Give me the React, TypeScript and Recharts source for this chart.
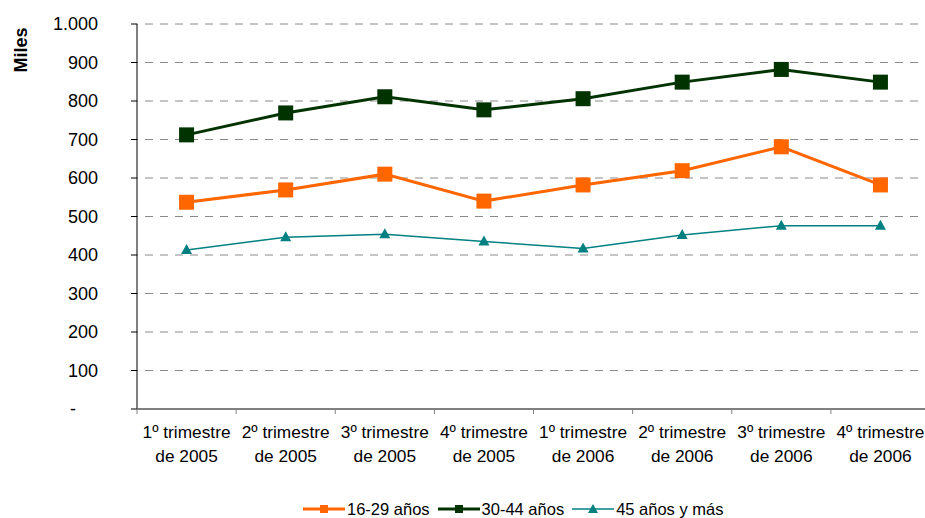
import React from "react";
import { LineChart, Line, XAxis, YAxis, CartesianGrid, Label, ReferenceLine } from "recharts";

const categories = [
  "1º trimestre de 2005",
  "2º trimestre de 2005",
  "3º trimestre de 2005",
  "4º trimestre de 2005",
  "1º trimestre de 2006",
  "2º trimestre de 2006",
  "3º trimestre de 2006",
  "4º trimestre de 2006",
];
const serie16_29 = [537, 569, 610, 540, 582, 619, 681, 582];
const serie30_44 = [712, 769, 811, 777, 806, 849, 882, 849];
const serie45 = [413, 446, 454, 435, 417, 452, 476, 476];
const yTicks = [0, 100, 200, 300, 400, 500, 600, 700, 800, 900, 1000];

const seriesNames = ["16-29 años", "30-44 años", "45 años y más"];
const COLORS = ["#FF6600", "#003300", "#008080"];

// position of each category = centre of its slot (slot i spans [i, i+1])
const data = categories.map((c, i) => ({
  cat: c,
  pos: i + 0.5,
  a: serie16_29[i],
  b: serie30_44[i],
  c: serie45[i],
}));
// ticks: slot boundaries (integers) get tick marks, slot centres get labels
const xTicks = Array.from({ length: categories.length * 2 + 1 }, (_, i) => i / 2);

const FONT = "'Liberation Sans', Arial, sans-serif";

const fmt = (v: number) => (v === 0 ? "-" : v >= 1000 ? v.toLocaleString("de-DE") : String(v));

const YTick = (props: any) => {
  const { x, y, payload } = props;
  const v = payload.value;
  if (v === 0) {
    return (
      <text x={x - 25} y={y} dy="0.35em" textAnchor="middle" fontSize={18} fontFamily={FONT} fill="#000">
        -
      </text>
    );
  }
  return (
    <text x={x} y={y} dy="0.35em" textAnchor="end" fontSize={18} fontFamily={FONT} fill="#000">
      {fmt(v)}
    </text>
  );
};

const XTick = (props: any) => {
  const { x, y, payload } = props;
  const v: number = payload.value;
  if (Number.isInteger(v)) {
    return <line x1={x} y1={y} x2={x} y2={y + 5} stroke="#808080" strokeWidth={1} />;
  }
  const s = categories[Math.floor(v)] || "";
  const idx = s.indexOf(" de ");
  const l1 = s.slice(0, idx);
  const l2 = s.slice(idx + 1);
  return (
    <text textAnchor="middle" fontSize={17.3} fontFamily={FONT} fill="#000">
      <tspan x={x} y={y + 29}>{l1}</tspan>
      <tspan x={x} y={y + 53}>{l2}</tspan>
    </text>
  );
};

const SquareDot = (color: string, size: number) => (props: any) => {
  const { cx, cy, index } = props;
  return <rect key={`sq-${color}-${index}`} x={cx - size / 2} y={cy - size / 2} width={size} height={size} fill={color} />;
};

const TriDot = (color: string, w: number, h: number) => (props: any) => {
  const { cx, cy, index } = props;
  const pts = `${cx},${cy - h * 0.6} ${cx - w / 2},${cy + h * 0.4} ${cx + w / 2},${cy + h * 0.4}`;
  return <polygon key={`tr-${index}`} points={pts} fill={color} />;
};

const MilesLabel = () => (
  <text
    x={20.5}
    y={50}
    transform="rotate(-90 20.5 50)"
    textAnchor="middle"
    dominantBaseline="central"
    fontSize={18}
    fontWeight="bold"
    fontFamily={FONT}
    fill="#000"
  >
    Miles
  </text>
);

const LegendIcon = ({ color, kind, width }: { color: string; kind: string; width: number }) => (
  <svg width={42} height={12} style={{ display: "block" }}>
    <line x1={0} y1={6} x2={42} y2={6} stroke={color} strokeWidth={width} />
    {kind === "sq" ? (
      <rect x={17} y={2} width={8} height={8} fill={color} />
    ) : (
      <polygon points="21,1 16,10 26,10" fill={color} />
    )}
  </svg>
);

const legendItems = [
  { name: seriesNames[0], color: COLORS[0], kind: "sq", width: 3 },
  { name: seriesNames[1], color: COLORS[1], kind: "sq", width: 3 },
  { name: seriesNames[2], color: COLORS[2], kind: "tri", width: 1.5 },
];

export default function App() {
  return (
    <div
      style={{
        position: "absolute",
        left: 0,
        top: 0,
        width: 925,
        height: 518,
        overflow: "hidden",
        background: "#fff",
      }}
    >
      <LineChart width={940} height={518} data={data} margin={{ top: 24, right: 10, bottom: 0, left: 0 }}>
        <CartesianGrid vertical={false} stroke="#8a8a8a" strokeDasharray="8 7" strokeDashoffset={-8} />
        <YAxis
          width={137}
          domain={[0, 1000]}
          ticks={yTicks}
          interval={0}
          axisLine={{ stroke: "#000" }}
          tickLine={{ stroke: "#000" }}
          tickSize={6}
          tickMargin={33}
          tick={<YTick />}
        >
          <Label content={<MilesLabel />} />
        </YAxis>
        <XAxis
          dataKey="pos"
          type="number"
          domain={[0, categories.length]}
          ticks={xTicks}
          interval={0}
          allowDecimals
          height={109}
          tickLine={false}
          tickSize={0}
          tickMargin={0}
          axisLine={{ stroke: "#808080", strokeWidth: 1.5 }}
          tick={<XTick />}
        />
        <ReferenceLine y={0} stroke="#808080" strokeWidth={2} />
        <Line
          dataKey="c"
          stroke={COLORS[2]}
          strokeWidth={1.5}
          dot={TriDot(COLORS[2], 11, 10)}
          activeDot={false}
          isAnimationActive={false}
        />
        <Line
          dataKey="a"
          stroke={COLORS[0]}
          strokeWidth={3}
          dot={SquareDot(COLORS[0], 15)}
          activeDot={false}
          isAnimationActive={false}
        />
        <Line
          dataKey="b"
          stroke={COLORS[1]}
          strokeWidth={3}
          dot={SquareDot(COLORS[1], 15)}
          activeDot={false}
          isAnimationActive={false}
        />
      </LineChart>
      <div
        style={{
          position: "absolute",
          left: 303,
          top: 499,
          display: "flex",
          alignItems: "center",
          fontFamily: FONT,
          fontSize: 16.5,
          color: "#000",
          whiteSpace: "nowrap",
        }}
      >
        {legendItems.map((it, i) => (
          <div key={it.name} style={{ display: "flex", alignItems: "center", marginRight: i < 2 ? 8 : 0 }}>
            <LegendIcon color={it.color} kind={it.kind} width={it.width} />
            <span style={{ marginLeft: 2, lineHeight: "20px" }}>{it.name}</span>
          </div>
        ))}
      </div>
    </div>
  );
}
